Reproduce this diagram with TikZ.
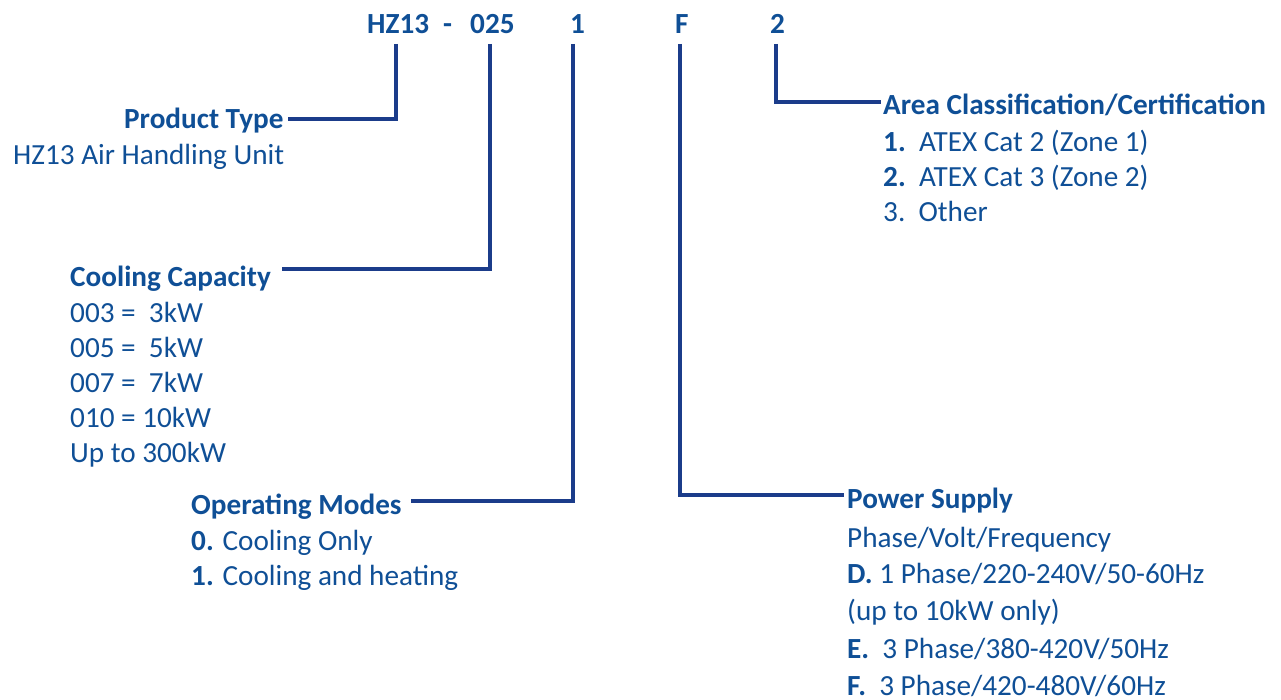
\documentclass[tikz,border=0pt]{standalone}
\usepackage{fontspec}
\setmainfont{Carlito}
\usetikzlibrary{calc}
\definecolor{txt}{HTML}{0F4F96}
\definecolor{ln}{HTML}{1B3C8A}
\newcommand{\fsz}{\fontsize{29.2}{34}\selectfont}
\begin{document}
\begin{tikzpicture}[x=1pt,y=-1pt]
\tikzset{
  lbl/.style={anchor=base west, inner sep=0pt, text=txt, font=\fsz},
  hd/.style={lbl, font=\fsz\bfseries},
  conn/.style={draw=ln, line width=4pt}
}
\useasboundingbox (0,0) rectangle (1281,700);
% code
\node[hd] (hz) at (367,34) {HZ13};
\node[hd] (dash) at (443,34) {-};
\node[hd] (cap) at (470,34) {025};
\node[hd] (mode) at (570,34) {1};
\node[hd] (pow) at (675,34) {F};
\node[hd] (area) at (770,34) {2};
% product type
\node[hd] (ptype) at (124,129) {Product Type};
\node[lbl] (ptype1) at (13,165) {HZ13 Air Handling Unit};
% cooling capacity
\node[hd] (cc) at (70,287) {Cooling Capacity};
\node[lbl] (cc1) at (70,322) {003 =\ \ 3kW};
\node[lbl] (cc2) at (70,357) {005 =\ \ 5kW};
\node[lbl] (cc3) at (70,392) {007 =\ \ 7kW};
\node[lbl] (cc4) at (70,427) {010 = 10kW};
\node[lbl] (cc5) at (70,462) {Up to 300kW};
% operating modes
\node[hd] (om) at (191,514) {Operating Modes};
\node[lbl] (om1) at (191,550) {\textbf{0.} Cooling Only};
\node[lbl] (om2) at (191,585) {\textbf{1.} Cooling and heating};
% area
\node[hd] (ac) at (883,115) {Area Classification/Certification};
\node[lbl] (ac1) at (883,152) {\textbf{1.}\ \ ATEX Cat 2 (Zone 1)};
\node[lbl] (ac2) at (883,187) {\textbf{2.}\ \ ATEX Cat 3 (Zone 2)};
\node[lbl] (ac3) at (883,222) {3.\ \ Other};
% power
\node[hd] (ps) at (847,508) {Power Supply};
\node[lbl] (ps1) at (847,547) {Phase/Volt/Frequency};
\node[lbl] (ps2) at (847,583) {\textbf{D.} 1 Phase/220-240V/50-60Hz};
\node[lbl] (ps3) at (847,620) {(up to 10kW only)};
\node[lbl] (ps4) at (847,658) {\textbf{E.}\ \ 3 Phase/380-420V/50Hz};
\node[lbl] (ps5) at (847,695) {\textbf{F.}\ \ 3 Phase/420-480V/60Hz};
% connectors
\draw[conn] ($(hz.south |- 0,44)+(-2,0)$) |- ($(ptype.base east)+(4,-10)$);
\draw[conn] ($(cap.south |- 0,44)+(-2,0)$) |- ($(cc.base east)+(11,-18)$);
\draw[conn] ($(mode.south |- 0,44)+(-5,0)$) |- ($(om.base east)+(9,-13)$);
\draw[conn] ($(pow.south |- 0,44)+(-2,0)$) |- ($(ps.base west)+(-3,-13)$);
\draw[conn] ($(area.south |- 0,44)+(-2,0)$) |- ($(ac.base west)+(-2,-13)$);
\end{tikzpicture}
\end{document}
